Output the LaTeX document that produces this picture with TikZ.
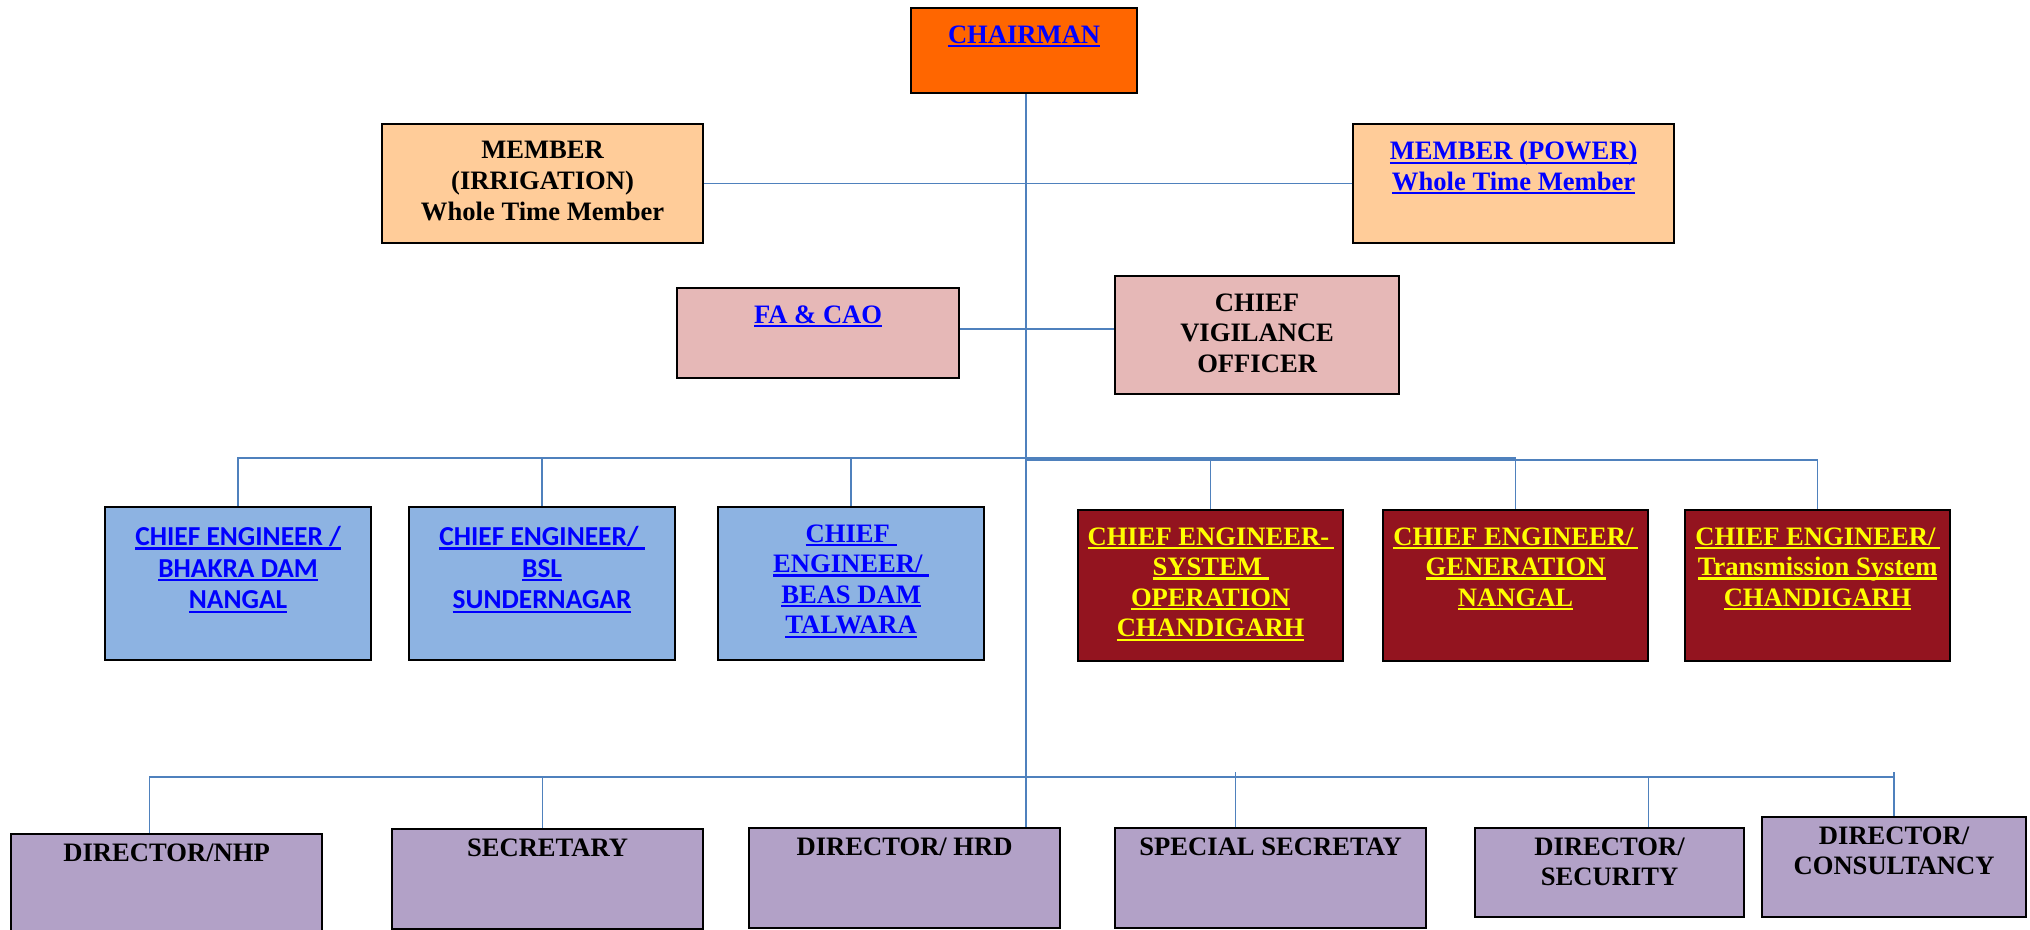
\documentclass[tikz,border=0pt]{standalone}
\usepackage{fontspec}
\setmainfont{Liberation Serif}
\newfontfamily\calibrifont{Carlito}
\usepackage{xcolor}
\usetikzlibrary{positioning,calc}

\definecolor{chairorange}{HTML}{FF6600}
\definecolor{memberpeach}{HTML}{FFCC99}
\definecolor{officepink}{HTML}{E6B8B7}
\definecolor{ceblue}{HTML}{8DB3E2}
\definecolor{cered}{HTML}{93141F}
\definecolor{dirlilac}{HTML}{B2A1C7}
\definecolor{urlblue}{HTML}{0000FF}
\definecolor{urlyellow}{HTML}{FFFF00}
\definecolor{wireblue}{HTML}{4F81BD}

\newcommand{\serifbold}{\fontsize{13.3pt}{15.3pt}\selectfont\bfseries}
\newcommand{\sansbold}{\calibrifont\fontsize{13.7pt}{15.8pt}\selectfont\bfseries}
\newcommand{\lnk}[1]{\leavevmode\setbox0\hbox{#1}\rlap{\rule[-2pt]{\wd0}{1.1pt}}\box0}

\begin{document}
\begin{tikzpicture}[x=0.5pt, y=-0.5pt,
  box/.style={draw=black, line width=1.1pt, inner sep=0pt, anchor=north west},
  chairbox/.style={box, fill=chairorange, minimum width=113pt, minimum height=42.5pt},
  memberbox/.style={box, fill=memberpeach, minimum width=160.5pt, minimum height=59.5pt},
  officebox/.style={box, fill=officepink},
  bluece/.style={box, fill=ceblue, minimum width=133pt, minimum height=76.5pt},
  redce/.style={box, fill=cered, minimum width=132.5pt, minimum height=75.5pt},
  dirbox/.style={box, fill=dirlilac, minimum width=155.5pt, minimum height=50pt},
  txt/.style={inner sep=0pt, align=center, font=\serifbold},
  sanstxt/.style={inner sep=0pt, align=center, font=\sansbold},
  wire/.style={draw=wireblue, line width=0.8pt}]

\useasboundingbox (0,0) rectangle (2030,930);
\fill[white] (0,0) rectangle (2030,930);

\coordinate (spine) at (1026,0);
\coordinate (cebusL) at (1026,458);
\coordinate (cebusR) at (1026,460);
\coordinate (dirbus) at (1026,777);

% top
\node[chairbox] (ch) at (910,7) {};
\node[txt, text=urlblue, below=9pt of ch.north] (chT) {\lnk{CHAIRMAN}};

\node[memberbox] (mi) at (381,123) {};
\node[txt, below=9pt of mi.north] (miT) {MEMBER\\(IRRIGATION)\\Whole Time Member};
\node[memberbox] (mp) at (1352,123) {};
\node[txt, text=urlblue, below=9pt of mp.north] (mpT) {\lnk{MEMBER (POWER)}\\\lnk{Whole Time Member}};

\node[officebox, minimum width=141pt, minimum height=45pt] (fa) at (676,287) {};
\node[txt, text=urlblue, below=9pt of fa.north] (faT) {\lnk{FA \& CAO}};
\node[officebox, minimum width=142pt, minimum height=59pt] (cvo) at (1114,275) {};
\node[txt, below=9pt of cvo.north] (cvoT) {CHIEF\\VIGILANCE\\OFFICER};

% chief engineers
\node[bluece] (ce1) at (104,506) {};
\node[sanstxt, text=urlblue, below=10pt of ce1.north] (ce1T) {\lnk{CHIEF ENGINEER /}\\\lnk{BHAKRA DAM}\\\lnk{NANGAL}};
\node[bluece] (ce2) at (408,506) {};
\node[sanstxt, text=urlblue, below=10pt of ce2.north] (ce2T) {\lnk{CHIEF ENGINEER/\ }\\\lnk{BSL}\\\lnk{SUNDERNAGAR}};
\node[bluece] (ce3) at (717,506) {};
\node[txt, text=urlblue, below=9pt of ce3.north] (ce3T) {\lnk{CHIEF\ }\\\lnk{ENGINEER/\ }\\\lnk{BEAS DAM}\\\lnk{TALWARA}};

\node[redce] (ce4) at (1077,509) {};
\node[txt, text=urlyellow, below=9pt of ce4.north] (ce4T) {\lnk{CHIEF ENGINEER-\,}\\\lnk{SYSTEM\ }\\\lnk{OPERATION}\\\lnk{CHANDIGARH}};
\node[redce] (ce5) at (1382,509) {};
\node[txt, text=urlyellow, below=9pt of ce5.north] (ce5T) {\lnk{CHIEF ENGINEER/\,}\\\lnk{GENERATION}\\\lnk{NANGAL}};
\node[redce] (ce6) at (1684,509) {};
\node[txt, text=urlyellow, below=9pt of ce6.north] (ce6T) {\lnk{CHIEF ENGINEER/\,}\\\lnk{Transmission System}\\\lnk{CHANDIGARH}};

% directors
\node[dirbox, minimum height=55pt] (d1) at (10,833) {};
\node[txt, below=5pt of d1.north] (d1T) {DIRECTOR/NHP};
\node[dirbox] (d2) at (391,828) {};
\node[txt, below=5pt of d2.north] (d2T) {SECRETARY};
\node[dirbox] (d3) at (748,827) {};
\node[txt, below=5pt of d3.north] (d3T) {DIRECTOR/ HRD};
\node[dirbox] (d4) at (1114,827) {};
\node[txt, below=5pt of d4.north] (d4T) {SPECIAL SECRETAY};
\node[dirbox, minimum width=134.5pt, minimum height=44.5pt] (d5) at (1474,827) {};
\node[txt, below=5pt of d5.north] (d5T) {DIRECTOR/\\SECURITY};
\node[dirbox, minimum width=132pt] (d6) at (1761,816) {};
\node[txt, below=5pt of d6.north] (d6T) {DIRECTOR/\\CONSULTANCY};

% connectors
\draw[wire] (spine |- ch.south) -- (spine |- d3.north);
\draw[wire] (mi.east) -- (mp.west);
\draw[wire] ($(fa.east)+(0,-4)$) -- ($(fa.east -| cvo.west)+(0,-4)$);

\draw[wire] (ce1.north) |- (cebusL -| ce5.north);
\draw[wire] (ce2.north) -- (ce2.north |- cebusL);
\draw[wire] (ce3.north) -- (ce3.north |- cebusL);
\draw[wire] (cebusR) -| (ce6.north);
\draw[wire] (ce4.north) -- (ce4.north |- cebusR);
\draw[wire] (ce5.north) -- (ce5.north |- cebusR);

\draw[wire] ($(d1.north)+(-17,0)$) |- (dirbus -| d6.north);
\draw[wire] ($(d2.north)+(-5,0)$) |- (dirbus);
\draw[wire] ($(d4.north)+(-35,0)$) -- ++(0,-55);
\draw[wire] ($(d5.north)+(39,0)$) |- (dirbus);
\draw[wire] (d6.north) -- ++(0,-44);

\end{tikzpicture}
\end{document}
